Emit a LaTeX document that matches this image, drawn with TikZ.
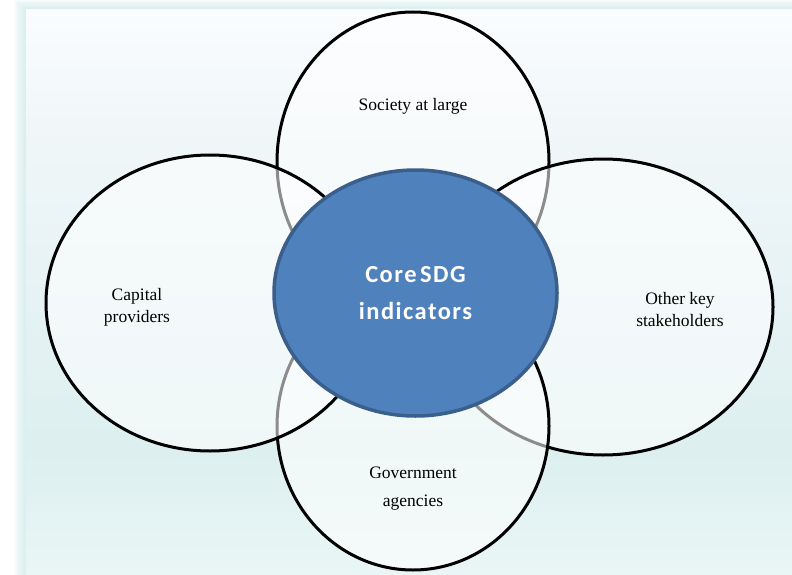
\documentclass[tikz,border=0pt]{standalone}
\usepackage{fontspec}
\setmainfont{Liberation Serif}
\newfontfamily\corefont[LetterSpace=6]{Carlito}
\usetikzlibrary{shapes.geometric}
\definecolor{pA}{HTML}{FAFCFE}
\definecolor{pB}{HTML}{EFF6F8}
\definecolor{pC}{HTML}{E6F2F4}
\definecolor{pD}{HTML}{DDEFEF}
\definecolor{pE}{HTML}{EAF6F6}
\definecolor{glowc}{HTML}{CFE8E8}
\definecolor{coreblue}{HTML}{4F81BD}
\definecolor{coreedge}{HTML}{3A5F8B}
\pgfdeclareverticalshading{panelbg}{100bp}{color(0bp)=(pE); color(25bp)=(pE); color(36bp)=(pD); color(49bp)=(pC); color(63bp)=(pB); color(75bp)=(pA); color(100bp)=(pA)}
\begin{document}
\begin{tikzpicture}[x=1pt,y=-1pt,
  petal/.style={ellipse, draw=black, line width=3pt, fill=white, fill opacity=0.55, draw opacity=1, inner sep=0pt},
  petaltext/.style={align=center, font=\fontsize{17.5}{22}\selectfont, text=black, inner sep=0pt},
  corestyle/.style={ellipse, draw=coreedge, fill=coreblue, line width=3.5pt, inner sep=0pt, align=center, text=white, font=\corefont\bfseries\fontsize{24.5}{37}\selectfont}]
\useasboundingbox (0,0) rectangle (792,575);
% background panel with soft glow
\foreach \i in {1,...,12} \fill[glowc, opacity=0.1] ({26-\i},{10-0.85*\i}) rectangle (792,575);
\shade[shading=panelbg] (26,10) rectangle (792,575);
% petals (order matters for the grey overlaps)
\node[petal, minimum width=272pt, minimum height=300pt] (society) at (413,162) {};
\node[petal, minimum width=340pt, minimum height=296pt] (others) at (603,307) {};
\node[petal, minimum width=272pt, minimum height=288pt] (gov) at (413,426) {};
\node[petal, minimum width=328pt, minimum height=296pt] (capital) at (210,303) {};
% core
\node[corestyle, minimum width=283pt, minimum height=246pt] (core) at (415.5,293) {Core\kern3.5pt SDG\\indicators};
% labels
\node[petaltext] (societytext) at (413,106) {Society at large};
\node[petaltext] (capitaltext) at (137,307) {Capital\\providers};
\node[petaltext] (otherstext) at (680,310) {Other key\\stakeholders};
\node[petaltext, font=\fontsize{17.5}{28}\selectfont] (govtext) at (413,489) {Government\\agencies};
\end{tikzpicture}
\end{document}
